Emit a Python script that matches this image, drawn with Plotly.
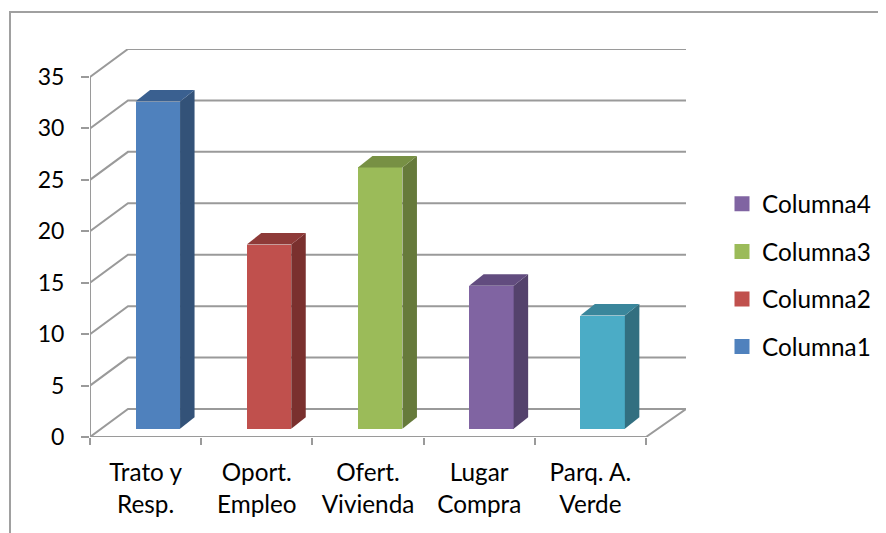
import plotly.graph_objects as go

categories = ["Trato y<br>Resp.", "Oport.<br>Empleo", "Ofert.<br>Vivienda", "Lugar<br>Compra", "Parq. A.<br>Verde"]
series_names = ["Columna1", "Columna2", "Columna3", "Columna4", ""]
series_values = [31.8, 17.9, 25.4, 13.9, 11.0]
front_colors = ["#4F81BD", "#C0504D", "#9BBB59", "#8064A2", "#4BACC6"]
side_colors = ["#335278", "#7A302E", "#667A3B", "#54426C", "#326F80"]
top_colors = ["#3A6090", "#8E3A38", "#779044", "#624C7F", "#3A869B"]
y_ticks = [0, 5, 10, 15, 20, 25, 30, 35]
x_ticks = [0, 1, 2, 3, 4, 5]

OFF = 8  # browser default page margin
W, H = 886, 533
FRONT_L, FRONT_R, FRONT_T, FRONT_B = 90 - OFF, 646 - OFF, 77 - OFF, 437 - OFF
WALL_DX, WALL_DX_R, WALL_DY = 38, 40, 28
GRID = "#9A9A9A"
TEXT = "#000000"
FONT = "Lato, Carlito, sans-serif"
FS = 24.3

ux = (FRONT_R - FRONT_L) / 5
uy = (FRONT_B - FRONT_T) / 35
wall_dx, wall_dx_r, wall_dy = WALL_DX / ux, WALL_DX_R / ux, WALL_DY / uy
bar_dx, bar_dy = 14.5 / ux, 11.5 / uy
bar_base = 8.3 / uy
bar_width = 44.5 / ux
bar_offset = 67.8 / ux
x_range = [0, 5 + wall_dx_r]
y_range = [0, 35 + wall_dy]

fig = go.Figure()

# front axis lines
fig.add_trace(go.Scatter(x=[0, 0, None, 0, 5], y=[0, 35, None, 0, 0], mode="lines",
                         line=dict(color=GRID, width=2), showlegend=False, hoverinfo="skip",
                         cliponaxis=False, xaxis="x", yaxis="y"))
# back wall gridlines and floor
for v in y_ticks:
    xs = [0, wall_dx, 5 + wall_dx_r]
    ys = [v, v + wall_dy, v + wall_dy]
    if v == 0:
        xs.append(5)
        ys.append(0)
    fig.add_trace(go.Scatter(x=xs, y=ys, mode="lines", line=dict(color=GRID, width=2),
                             showlegend=False, hoverinfo="skip", cliponaxis=False,
                             xaxis="x", yaxis="y"))

# bars
for i, (name, val) in enumerate(zip(series_names, series_values)):
    cx = i + bar_offset
    l, r = cx - bar_width / 2, cx + bar_width / 2
    b, t = bar_base, bar_base + val
    fig.add_trace(go.Bar(x=[cx], y=[val], base=[b], width=[bar_width], name=name or "Columna5",
                         marker=dict(color=front_colors[i], line=dict(color=front_colors[i], width=0)),
                         showlegend=False, cliponaxis=False, xaxis="x2", yaxis="y2"))
    fig.add_trace(go.Scatter(x=[r, r + bar_dx, r + bar_dx, r, r], y=[b, b + bar_dy, t + bar_dy, t, b],
                             mode="lines", fill="toself", fillcolor=side_colors[i], line=dict(width=0),
                             showlegend=False, hoverinfo="skip", cliponaxis=False,
                             xaxis="x2", yaxis="y2"))
    fig.add_trace(go.Scatter(x=[l, r, r + bar_dx, l + bar_dx, l], y=[t, t, t + bar_dy, t + bar_dy, t],
                             mode="lines", fill="toself", fillcolor=top_colors[i], line=dict(width=0),
                             showlegend=False, hoverinfo="skip", cliponaxis=False,
                             xaxis="x2", yaxis="y2"))

# legend entries, top to bottom
for i in [3, 2, 1, 0]:
    fig.add_trace(go.Scatter(x=[None], y=[None], mode="markers", name=series_names[i],
                             marker=dict(symbol="square", size=15, color=front_colors[i]),
                             legendgroup=series_names[i], xaxis="x2", yaxis="y2"))

PLOT_L, PLOT_R = FRONT_L, FRONT_R + WALL_DX_R
PLOT_T, PLOT_B = FRONT_T - WALL_DY, FRONT_B
px = lambda p: (p - OFF - PLOT_L) / (PLOT_R - PLOT_L)
py = lambda p: (PLOT_B - (p - OFF)) / (PLOT_B - PLOT_T)

fig.update_layout(
    width=W, height=H, autosize=False,
    margin=dict(l=PLOT_L, r=W - PLOT_R, t=PLOT_T, b=H - PLOT_B, pad=0),
    paper_bgcolor="white", plot_bgcolor="rgba(0,0,0,0)",
    font=dict(family=FONT, size=FS, color=TEXT),
    bargap=0,
    xaxis=dict(range=x_range, tickvals=x_ticks, showticklabels=False, ticks="outside",
               ticklen=7, tickwidth=2, tickcolor=GRID, showline=False,
               showgrid=False, zeroline=False, fixedrange=True),
    yaxis=dict(range=y_range, tickvals=y_ticks, ticks="outside", ticklen=8, tickwidth=2,
               tickcolor=GRID, showline=False, showgrid=False,
               zeroline=False, fixedrange=True, tickfont=dict(family=FONT, size=23, color=TEXT),
               ticklabelstandoff=12),
    xaxis2=dict(range=x_range, overlaying="x", tickmode="array", tickvals=[0.5, 1.5, 2.5, 3.5, 4.5],
                ticktext=categories,
                tickangle=0, ticks="", showline=False, showgrid=False, zeroline=False, fixedrange=True,
                tickfont=dict(family=FONT, size=FS, color=TEXT), ticklabelstandoff=19),
    yaxis2=dict(range=y_range, overlaying="y", visible=False, fixedrange=True),
    legend=dict(x=px(722), y=py(181.5), xanchor="left", yanchor="top", xref="paper", yref="paper",
                tracegroupgap=13, font=dict(family=FONT, size=FS, color=TEXT),
                bgcolor="rgba(0,0,0,0)", traceorder="grouped", itemclick=False, itemdoubleclick=False),
    shapes=[dict(type="rect", xref="paper", yref="paper", x0=px(10), x1=px(900), y0=py(560), y1=py(12),
                 line=dict(color="#A0A0A0", width=2), fillcolor="rgba(0,0,0,0)", layer="below")],
)

fig.write_html("out.html")
